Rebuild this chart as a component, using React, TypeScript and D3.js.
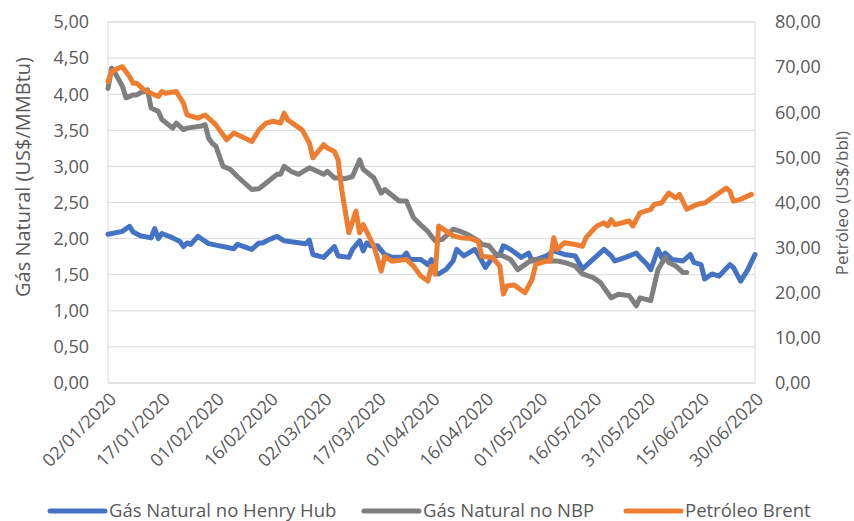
import React from 'react';
import * as d3 from 'd3';

// ---- Data ----
const seriesNames = ['Gás Natural no Henry Hub', 'Gás Natural no NBP', 'Petróleo Brent'];
const seriesColors = ['#4472C4', '#7F7F7F', '#ED7D31'];

const xTickLabels = [
  '02/01/2020', '17/01/2020', '01/02/2020', '16/02/2020', '02/03/2020', '17/03/2020', '01/04/2020',
  '16/04/2020', '01/05/2020', '16/05/2020', '31/05/2020', '15/06/2020', '30/06/2020',
];
const leftTicks = [0, 0.5, 1, 1.5, 2, 2.5, 3, 3.5, 4, 4.5, 5];
const rightTicks = [0, 10, 20, 30, 40, 50, 60, 70, 80];

// Henry Hub (US$/MMBtu) — left axis
const henryHub: [string, number][] = [
  ['01-02', 2.06], ['01-06', 2.10], ['01-08', 2.17], ['01-09', 2.09], ['01-11', 2.04], ['01-14', 2.01],
  ['01-15', 2.14], ['01-16', 2.00], ['01-17', 2.07], ['01-20', 2.01], ['01-22', 1.96], ['01-23', 1.89],
  ['01-24', 1.94], ['01-25', 1.92], ['01-27', 2.03], ['01-30', 1.93], ['02-01', 1.91], ['02-06', 1.86],
  ['02-07', 1.92], ['02-11', 1.85], ['02-13', 1.94], ['02-14', 1.94], ['02-16', 1.99], ['02-18', 2.03],
  ['02-20', 1.97], ['02-26', 1.93], ['02-27', 1.98], ['02-28', 1.78], ['03-02', 1.74], ['03-05', 1.89],
  ['03-06', 1.76], ['03-09', 1.74], ['03-10', 1.85], ['03-12', 1.97], ['03-13', 1.83], ['03-14', 1.94],
  ['03-15', 1.90], ['03-17', 1.90], ['03-19', 1.78], ['03-21', 1.74], ['03-24', 1.74], ['03-25', 1.80],
  ['03-26', 1.71], ['03-29', 1.71], ['03-31', 1.64], ['04-01', 1.71], ['04-02', 1.53], ['04-03', 1.51],
  ['04-05', 1.57], ['04-07', 1.69], ['04-08', 1.85], ['04-10', 1.76], ['04-13', 1.85], ['04-14', 1.78],
  ['04-16', 1.60], ['04-18', 1.74], ['04-20', 1.78], ['04-21', 1.90], ['04-23', 1.85], ['04-26', 1.74],
  ['04-28', 1.80], ['04-29', 1.69], ['05-03', 1.76], ['05-05', 1.83], ['05-08', 1.78], ['05-11', 1.76],
  ['05-13', 1.58], ['05-15', 1.67], ['05-17', 1.76], ['05-19', 1.85], ['05-21', 1.76], ['05-22', 1.69],
  ['05-25', 1.74], ['05-28', 1.80], ['05-29', 1.74], ['05-31', 1.64], ['06-01', 1.57], ['06-03', 1.85],
  ['06-04', 1.74], ['06-05', 1.80], ['06-07', 1.71], ['06-10', 1.69], ['06-12', 1.78], ['06-13', 1.67],
  ['06-15', 1.64], ['06-16', 1.44], ['06-18', 1.51], ['06-20', 1.48], ['06-23', 1.64], ['06-24', 1.60],
  ['06-26', 1.41], ['06-28', 1.57], ['06-30', 1.78],
];

// NBP (US$/MMBtu) — left axis
const nbp: [string, number][] = [
  ['01-02', 4.08], ['01-03', 4.36], ['01-04', 4.29], ['01-06', 4.11], ['01-07', 3.95], ['01-09', 3.99],
  ['01-10', 3.99], ['01-11', 4.02], ['01-13', 4.06], ['01-14', 3.81], ['01-16', 3.76], ['01-17', 3.65],
  ['01-20', 3.53], ['01-21', 3.60], ['01-23', 3.51], ['01-24', 3.53], ['01-28', 3.56], ['01-29', 3.58],
  ['01-30', 3.39], ['01-31', 3.32], ['02-01', 3.28], ['02-03', 3.00], ['02-05', 2.96], ['02-07', 2.86],
  ['02-11', 2.68], ['02-13', 2.69], ['02-15', 2.77], ['02-18', 2.89], ['02-19', 2.89], ['02-20', 3.00],
  ['02-22', 2.93], ['02-24', 2.89], ['02-27', 2.98], ['02-28', 2.96], ['03-02', 2.89], ['03-03', 2.93],
  ['03-05', 2.84], ['03-06', 2.84], ['03-08', 2.83], ['03-10', 2.86], ['03-12', 3.09], ['03-13', 2.96],
  ['03-16', 2.84], ['03-18', 2.63], ['03-19', 2.68], ['03-23', 2.52], ['03-25', 2.52], ['03-27', 2.29],
  ['03-29', 2.19], ['03-31', 2.10], ['04-01', 2.03], ['04-02', 1.97], ['04-04', 1.99], ['04-07', 2.13],
  ['04-09', 2.10], ['04-11', 2.06], ['04-14', 1.97], ['04-15', 1.92], ['04-17', 1.90], ['04-19', 1.78],
  ['04-21', 1.76], ['04-23', 1.71], ['04-25', 1.57], ['04-27', 1.64], ['04-29', 1.71], ['05-02', 1.71],
  ['05-04', 1.69], ['05-06', 1.69], ['05-08', 1.67], ['05-11', 1.62], ['05-13', 1.51], ['05-16', 1.46],
  ['05-18', 1.39], ['05-19', 1.32], ['05-21', 1.18], ['05-23', 1.23], ['05-26', 1.21], ['05-28', 1.07],
  ['05-29', 1.18], ['06-01', 1.14], ['06-03', 1.57], ['06-05', 1.74], ['06-06', 1.67], ['06-08', 1.62],
  ['06-10', 1.53], ['06-11', 1.53],
];

// Brent (US$/bbl) — right axis
const brent: [string, number][] = [
  ['01-02', 66.8], ['01-03', 69.0], ['01-05', 69.8], ['01-06', 70.1], ['01-08', 67.9], ['01-09', 66.4],
  ['01-10', 66.4], ['01-12', 65.0], ['01-14', 64.2], ['01-16', 63.5], ['01-17', 64.6], ['01-18', 64.2],
  ['01-21', 64.6], ['01-23', 62.0], ['01-24', 59.4], ['01-27', 58.7], ['01-29', 59.4], ['01-31', 58.0],
  ['02-01', 57.2], ['02-04', 53.9], ['02-06', 55.4], ['02-11', 53.5], ['02-13', 56.1], ['02-15', 57.6],
  ['02-17', 58.0], ['02-19', 57.6], ['02-20', 59.8], ['02-21', 58.3], ['02-25', 56.1], ['02-27', 53.2],
  ['02-28', 49.9], ['03-02', 52.8], ['03-03', 52.1], ['03-05', 51.3], ['03-06', 49.5], ['03-07', 42.9],
  ['03-09', 33.3], ['03-11', 38.1], ['03-12', 33.3], ['03-13', 35.1], ['03-16', 30.3], ['03-18', 24.8],
  ['03-19', 28.1], ['03-21', 27.0], ['03-25', 27.4], ['03-27', 25.9], ['03-29', 23.7], ['03-31', 22.6],
  ['04-01', 25.9], ['04-02', 24.1], ['04-03', 34.8], ['04-05', 33.7], ['04-07', 32.6], ['04-09', 32.2],
  ['04-12', 32.0], ['04-14', 31.4], ['04-15', 28.1], ['04-18', 27.8], ['04-20', 25.9], ['04-21', 19.7],
  ['04-22', 21.5], ['04-24', 21.7], ['04-27', 20.0], ['04-29', 23.0], ['04-30', 26.3], ['05-03', 27.0],
  ['05-04', 27.0], ['05-05', 32.2], ['05-06', 29.6], ['05-08', 31.1], ['05-11', 30.7], ['05-13', 30.3],
  ['05-14', 32.2], ['05-16', 34.0], ['05-17', 34.8], ['05-19', 35.5], ['05-20', 34.8], ['05-21', 36.2],
  ['05-22', 35.1], ['05-26', 35.9], ['05-27', 34.8], ['05-29', 37.7], ['06-01', 38.5], ['06-02', 39.6],
  ['06-04', 39.9], ['06-06', 42.1], ['06-08', 41.0], ['06-09', 41.8], ['06-11', 38.5], ['06-14', 39.6],
  ['06-16', 39.9], ['06-18', 41.0], ['06-20', 42.1], ['06-22', 43.2], ['06-23', 42.5], ['06-24', 40.3],
  ['06-26', 40.7], ['06-29', 41.8],
];

const FONT = "'Open Sans', 'Liberation Sans', sans-serif";
const TEXT = '#595959';

export default function App() {
  const W = 854, H = 521;
  const L = 108, R = 755, T = 22, B = 383;

  const parseMD = (s: string) => d3.utcParse('%Y-%m-%d')('2020-' + s) as Date;
  const parseDMY = d3.utcParse('%d/%m/%Y');

  const x = d3.scaleUtc()
    .domain([parseDMY(xTickLabels[0]) as Date, parseDMY(xTickLabels[xTickLabels.length - 1]) as Date])
    .range([L, R]);
  const yL = d3.scaleLinear().domain([0, 5]).range([B, T]);
  const yR = d3.scaleLinear().domain([0, 80]).range([B, T]);

  const fmt = (v: number) => v.toFixed(2).replace('.', ',');

  const lineL = d3.line<[string, number]>().x(d => x(parseMD(d[0]))).y(d => yL(d[1]));
  const lineR = d3.line<[string, number]>().x(d => x(parseMD(d[0]))).y(d => yR(d[1]));

  const paths = [
    { d: lineL(henryHub), c: seriesColors[0] },
    { d: lineL(nbp), c: seriesColors[1] },
    { d: lineR(brent), c: seriesColors[2] },
  ];

  const legendItems = [
    { x0: 50, name: seriesNames[0], c: seriesColors[0] },
    { x0: 364, name: seriesNames[1], c: seriesColors[1] },
    { x0: 626, name: seriesNames[2], c: seriesColors[2] },
  ];

  return (
    <svg width={W} height={H} style={{ position: 'absolute', left: 0, top: 0, background: '#fff' }}
      fontFamily={FONT}>
      <rect x={0} y={0} width={W} height={H} fill="#fff" />
      {/* gridlines */}
      {leftTicks.map(v => (
        <line key={'g' + v} x1={L} x2={R} y1={yL(v)} y2={yL(v)} stroke="#D9D9D9" strokeWidth={1} />
      ))}
      {/* plot border */}
      <rect x={L} y={T} width={R - L} height={B - T} fill="none" stroke="#D9D9D9" strokeWidth={1} />

      {/* left tick labels */}
      {leftTicks.map(v => (
        <text key={'l' + v} x={89} y={yL(v)} dy="0.35em" textAnchor="end" fontSize={18} fill={TEXT}>{fmt(v)}</text>
      ))}
      {/* right tick labels */}
      {rightTicks.map(v => (
        <text key={'r' + v} x={775} y={yR(v)} dy="0.35em" textAnchor="start" fontSize={18} fill={TEXT}>{fmt(v)}</text>
      ))}
      {/* x tick labels */}
      {xTickLabels.map(s => {
        const px = x(parseDMY(s) as Date);
        return (
          <text key={s} transform={`translate(${px + 5},${396}) rotate(-45)`} textAnchor="end" dy="0.35em"
            fontSize={18} fill={TEXT}>{s}</text>
        );
      })}

      {/* axis titles */}
      <text transform={`translate(23,${177}) rotate(-90)`} textAnchor="middle" dy="0.35em" fontSize={20} fill={TEXT}>
        Gás Natural (US$/MMBtu)
      </text>
      <text transform={`translate(842,${203}) rotate(-90)`} textAnchor="middle" dy="0.35em" fontSize={17} fill={TEXT}>
        Petróleo (US$/bbl)
      </text>

      {/* series */}
      {paths.map((p, i) => (
        <path key={i} d={p.d || ''} fill="none" stroke={p.c} strokeWidth={5} strokeLinejoin="round" strokeLinecap="round" />
      ))}

      {/* legend */}
      {legendItems.map(it => (
        <g key={it.name}>
          <line x1={it.x0} x2={it.x0 + 55} y1={511} y2={511} stroke={it.c} strokeWidth={5} strokeLinecap="round" />
          <text x={it.x0 + 59} y={511} dy="0.35em" fontSize={18.5} fill={TEXT}>{it.name}</text>
        </g>
      ))}
    </svg>
  );
}
